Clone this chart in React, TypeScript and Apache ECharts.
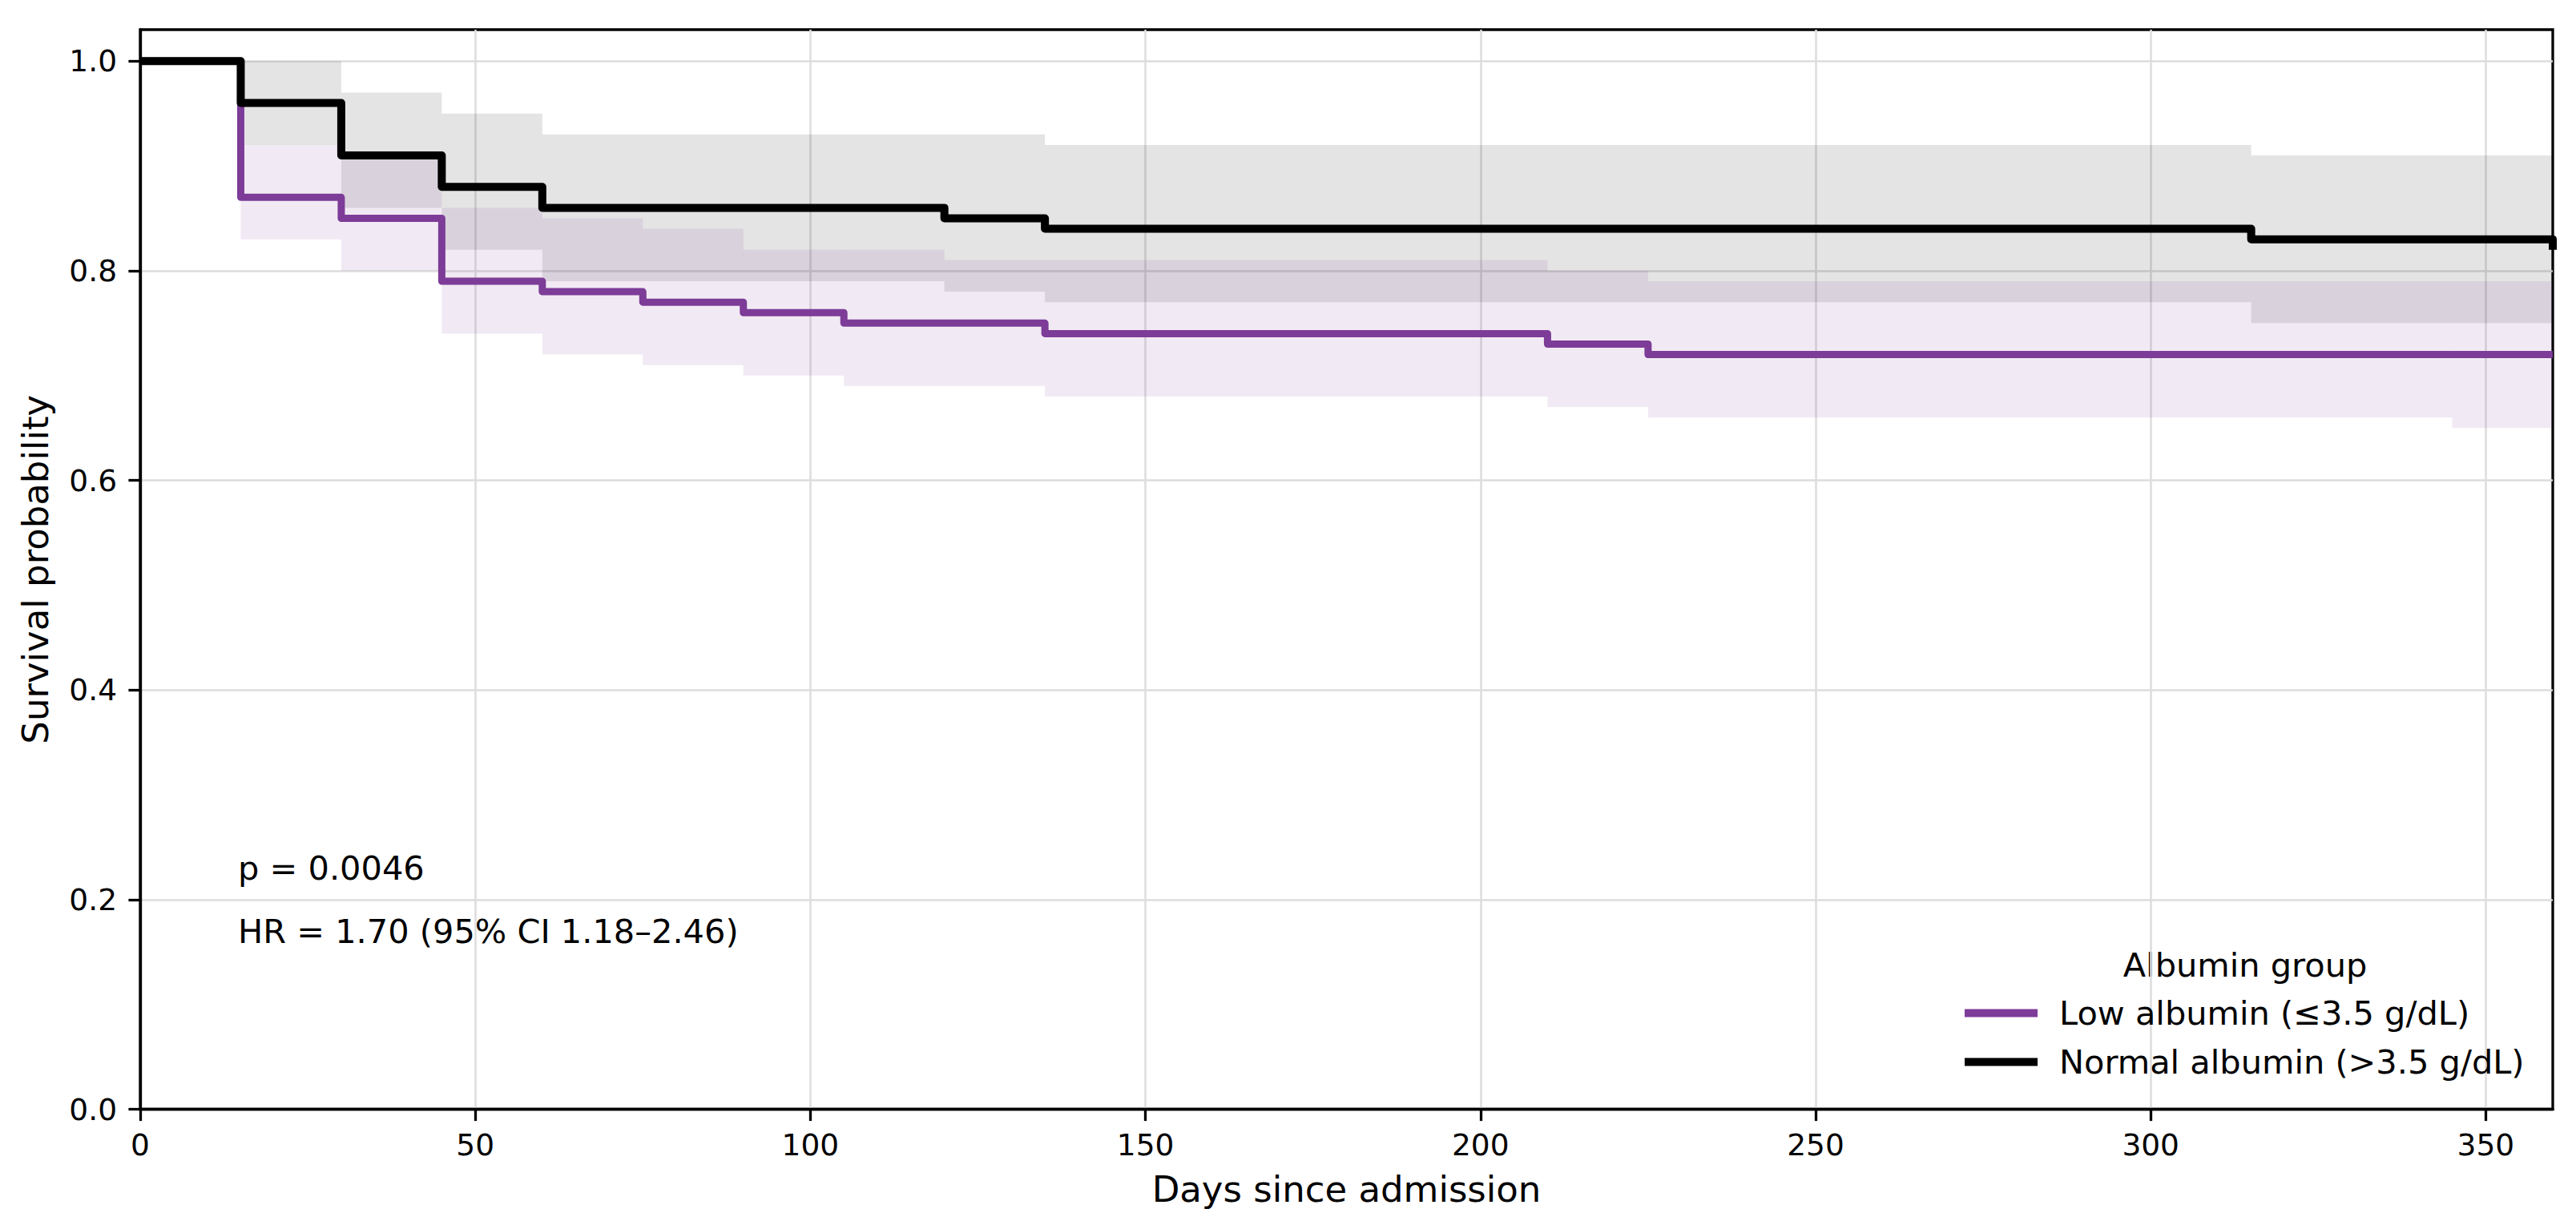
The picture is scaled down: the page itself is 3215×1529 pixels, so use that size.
import React, { useEffect, useRef } from "react";
import * as echarts from "echarts";

// ---- Data ----
const normalTimes = [0, 15, 30, 45, 60, 120, 135, 315, 360];
const normalSurv = [1.0, 0.96, 0.91, 0.88, 0.86, 0.85, 0.84, 0.83, 0.82];

const lowTimes = [0, 15, 30, 45, 60, 75, 90, 105, 135, 210, 225, 360];
const lowSurv = [1.0, 0.87, 0.85, 0.79, 0.78, 0.77, 0.76, 0.75, 0.74, 0.73, 0.72, 0.72];

// confidence bands: interval i spans times[i]..times[i+1]
const normalCiTimes = [15, 30, 45, 60, 120, 135, 315, 360];
const normalCiLower = [0.92, 0.86, 0.82, 0.79, 0.78, 0.77, 0.75];
const normalCiUpper = [1.0, 0.97, 0.95, 0.93, 0.93, 0.92, 0.91];

const lowCiTimes = [15, 30, 45, 60, 75, 90, 105, 120, 135, 210, 225, 345, 360];
const lowCiLower = [0.83, 0.8, 0.74, 0.72, 0.71, 0.7, 0.69, 0.69, 0.68, 0.67, 0.66, 0.65];
const lowCiUpper = [0.92, 0.91, 0.86, 0.85, 0.84, 0.82, 0.82, 0.81, 0.81, 0.8, 0.79, 0.79];

const xTicks = [0, 50, 100, 150, 200, 250, 300, 350];
const yTicks = [0, 0.2, 0.4, 0.6, 0.8, 1.0];

const lowName = "Low albumin (≤3.5 g/dL)";
const normalName = "Normal albumin (>3.5 g/dL)";
const legendTitle = "Albumin group";
const pText = "p = 0.0046";
const hrText = "HR = 1.70 (95% CI 1.18–2.46)";
const xName = "Days since admission";
const yName = "Survival probability";

const PURPLE = "#7d3c98";
const FONT = "DejaVu Sans";

function bandSeries(name: string, times: number[], lower: number[], upper: number[], fill: string) {
  const data = lower.map((lo, i) => [times[i], times[i + 1], lo, upper[i]]);
  return {
    type: "custom",
    name,
    silent: true,
    z: 1,
    encode: { x: [0, 1], y: [2, 3] },
    data,
    renderItem: (_params: any, api: any) => {
      const a = api.coord([api.value(0), api.value(3)]);
      const b = api.coord([api.value(1), api.value(2)]);
      return {
        type: "rect",
        shape: { x: a[0], y: a[1], width: b[0] - a[0], height: b[1] - a[1] },
        style: { fill },
      };
    },
  };
}

export default function App() {
  const ref = useRef<HTMLDivElement>(null);

  useEffect(() => {
    if (!ref.current) return;
    const chart = echarts.init(ref.current, null, { renderer: "svg" });
    const axisCommon = {
      axisLine: { show: true, lineStyle: { color: "#000", width: 3.3 } },
      axisTick: { show: true, inside: false, length: 14.6, lineStyle: { color: "#000", width: 3.3 } },
      splitLine: { show: true, lineStyle: { color: "#dddddd", width: 2.5 } },
    };
    chart.setOption({
      animation: false,
      backgroundColor: "#ffffff",
      textStyle: { fontFamily: FONT, color: "#000" },
      grid: {
        left: 175,
        right: 29,
        top: 37,
        bottom: 144.5,
        show: true,
        borderColor: "#000",
        borderWidth: 3.3,
        backgroundColor: "transparent",
        containLabel: false,
        outerBoundsMode: "none",
      },
      xAxis: {
        type: "value",
        min: 0,
        max: 360,
        interval: 50,
        name: xName,
        nameLocation: "middle",
        nameGap: 77,
        nameTextStyle: { fontSize: 45, color: "#000", fontFamily: FONT },
        ...axisCommon,
        axisTick: { ...axisCommon.axisTick, customValues: xTicks },
        axisLabel: {
          customValues: xTicks,
          fontSize: 37.5,
          color: "#000",
          fontFamily: FONT,
          margin: 25,
          formatter: (v: number) => String(v),
        },
      },
      yAxis: {
        type: "value",
        min: 0,
        max: 1.03,
        interval: 0.2,
        name: yName,
        nameLocation: "middle",
        nameGap: 108,
        nameTextStyle: { fontSize: 45, color: "#000", fontFamily: FONT },
        ...axisCommon,
        axisTick: { ...axisCommon.axisTick, customValues: yTicks },
        axisLabel: {
          customValues: yTicks,
          fontSize: 37.5,
          color: "#000",
          fontFamily: FONT,
          margin: 29,
          formatter: (v: number) => v.toFixed(1),
        },
      },
      legend: {
        data: [lowName, normalName],
        orient: "vertical",
        left: 2452,
        top: 1239.5,
        padding: 0,
        itemWidth: 91,
        itemHeight: 10,
        itemGap: 11,
        icon: "rect",
        selectedMode: false,
        textStyle: {
          fontSize: 41.5,
          color: "#000",
          fontFamily: FONT,
          lineHeight: 50,
          padding: [0, 0, 0, 22],
        },
      },
      graphic: [
        {
          type: "text",
          x: 2802,
          y: 1204,
          style: { text: legendTitle, fill: "#000", font: `41.5px "${FONT}"`, align: "center", verticalAlign: "middle" },
        },
        {
          type: "text",
          x: 297,
          y: 1083.6,
          style: { text: pText, fill: "#000", font: `41.5px "${FONT}"`, align: "left", verticalAlign: "middle" },
        },
        {
          type: "text",
          x: 297,
          y: 1162.6,
          style: { text: hrText, fill: "#000", font: `41.5px "${FONT}"`, align: "left", verticalAlign: "middle" },
        },
      ],
      series: [
        bandSeries("Normal albumin 95% CI", normalCiTimes, normalCiLower, normalCiUpper, "rgba(0,0,0,0.105)"),
        bandSeries("Low albumin 95% CI", lowCiTimes, lowCiLower, lowCiUpper, "rgba(125,60,152,0.11)"),
        {
          type: "line",
          name: lowName,
          data: lowTimes.map((t, i) => [t, lowSurv[i]]),
          step: "end",
          symbol: "none",
          showSymbol: false,
          z: 3,
          itemStyle: { color: PURPLE },
          lineStyle: { color: PURPLE, width: 9, join: "round", cap: "butt" },
        },
        {
          type: "line",
          name: normalName,
          data: normalTimes.map((t, i) => [t, normalSurv[i]]),
          step: "end",
          symbol: "none",
          showSymbol: false,
          z: 4,
          itemStyle: { color: "#000" },
          lineStyle: { color: "#000", width: 10, join: "round", cap: "butt" },
        },
      ],
    });
    return () => chart.dispose();
  }, []);

  return (
    <div
      ref={ref}
      style={{ position: "fixed", left: 0, top: 0, width: 3215, height: 1529, background: "#fff" }}
    />
  );
}
